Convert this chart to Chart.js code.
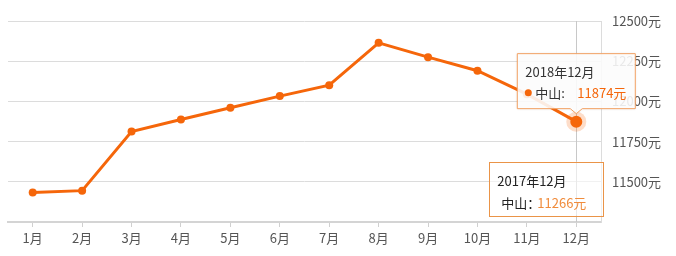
<!DOCTYPE html>
<html>
<head>
<meta charset="utf-8">
<script src="https://cdn.jsdelivr.net/npm/chart.js@4/dist/chart.umd.min.js"></script>
<style>
  html, body { margin: 0; padding: 0; background: #fff; }
  #wrap { width: 676px; height: 256px; position: relative; }
</style>
</head>
<body>
<div id="wrap"><canvas id="myChart"></canvas></div>
<script>
const months = ["1月", "2月", "3月", "4月", "5月", "6月", "7月", "8月", "9月", "10月", "11月", "12月"];
const prices = [11433, 11445, 11813, 11887, 11961, 12033, 12101, 12364, 12275, 12191, 12045, 11874];
const yTicks = [11250, 11500, 11750, 12000, 12250, 12500];

const cityName = "中山";
const activeIndex = 11;
const activeTitle = "2018年12月";
const oldTitle = "2017年12月";
const oldValue = 11266;

const orange = "#f5660a";
const fontName = "'Noto Sans CJK SC', 'Microsoft YaHei', sans-serif";

// crosshair + halo under the line
const underPlugin = {
  id: "under",
  beforeDatasetsDraw(chart) {
    const ctx = chart.ctx;
    const area = chart.chartArea;
    const x = chart.scales.x.getPixelForValue(activeIndex);
    const y = chart.scales.y.getPixelForValue(prices[activeIndex]);
    ctx.save();
    ctx.strokeStyle = "#c8c8c8";
    ctx.lineWidth = 1;
    ctx.beginPath();
    ctx.moveTo(Math.round(x) + 0.5, area.top);
    ctx.lineTo(Math.round(x) + 0.5, area.bottom);
    ctx.stroke();
    ctx.fillStyle = "rgba(245, 102, 10, 0.22)";
    ctx.beginPath();
    ctx.arc(x, y, 10, 0, Math.PI * 2);
    ctx.fill();
    ctx.restore();
  },
};

// the two tooltip boxes
const boxPlugin = {
  id: "boxes",
  afterDraw(chart) {
    const ctx = chart.ctx;
    const x = chart.scales.x.getPixelForValue(activeIndex);
    const y = chart.scales.y.getPixelForValue(prices[activeIndex]);
    ctx.save();
    ctx.font = "13px " + fontName;
    ctx.textBaseline = "middle";

    // old 2017 box
    let bx = x - 87, by = y + 40, bw = 114, bh = 54;
    ctx.fillStyle = "rgba(255,255,255,0.6)";
    ctx.fillRect(bx, by, bw, bh);
    ctx.strokeStyle = "#ea9448";
    ctx.lineWidth = 1;
    ctx.strokeRect(Math.round(bx) + 0.5, Math.round(by) + 0.5, bw, bh);
    ctx.fillStyle = "#222";
    ctx.fillText(oldTitle, bx + 8, by + 19);
    ctx.fillText(cityName + "：", bx + 12, by + 41);
    ctx.fillStyle = "#f08c3c";
    ctx.fillText(oldValue + "元", bx + 48, by + 41);

    // active 2018 box with pointer
    bx = x - 59; by = y - 68; bw = 118; bh = 55;
    const tipY = y - 8;
    ctx.shadowColor = "rgba(0,0,0,0.12)";
    ctx.shadowBlur = 3;
    ctx.beginPath();
    ctx.moveTo(bx, by);
    ctx.lineTo(bx + bw, by);
    ctx.lineTo(bx + bw, by + bh);
    ctx.lineTo(x + 6, by + bh);
    ctx.lineTo(x, tipY);
    ctx.lineTo(x - 6, by + bh);
    ctx.lineTo(bx, by + bh);
    ctx.closePath();
    ctx.fillStyle = "rgba(255,255,255,0.88)";
    ctx.fill();
    ctx.shadowBlur = 0;
    ctx.strokeStyle = "#f2a062";
    ctx.stroke();
    ctx.fillStyle = "#333";
    ctx.fillText(activeTitle, bx + 8, by + 18);
    ctx.fillStyle = orange;
    ctx.beginPath();
    ctx.arc(bx + 11, by + 39, 3.5, 0, Math.PI * 2);
    ctx.fill();
    ctx.fillStyle = "#333";
    ctx.fillText(cityName + ":", bx + 18, by + 39);
    ctx.fillStyle = orange;
    ctx.fillText(prices[activeIndex] + "元", bx + 60, by + 39);
    ctx.restore();
  },
};

const ctx = document.getElementById("myChart").getContext("2d");
new Chart(ctx, {
  type: "line",
  data: {
    labels: months,
    datasets: [
      {
        data: prices,
        borderColor: orange,
        backgroundColor: orange,
        borderWidth: 3,
        pointRadius: prices.map((_, i) => (i === activeIndex ? 6 : 4)),
        pointBorderWidth: 0,
        tension: 0,
        fill: false,
      },
    ],
  },
  options: {
    responsive: true,
    maintainAspectRatio: false,
    animation: false,
    events: [],
    layout: { padding: { top: 21, left: 8, right: 0, bottom: 0 } },
    plugins: { legend: { display: false }, tooltip: { enabled: false } },
    scales: {
      x: {
        offset: true,
        grid: {
          offset: false,
          drawOnChartArea: false,
          tickLength: 5,
          color: "#d0d0d0",
        },
        border: { display: true, color: "#d4d4d4", width: 2 },
        ticks: { color: "#555", font: { size: 13, family: fontName }, padding: 3 },
        afterFit(scale) { scale.height = 34; },
      },
      y: {
        position: "right",
        min: yTicks[0],
        max: yTicks[yTicks.length - 1],
        afterBuildTicks(scale) {
          scale.ticks = yTicks.map((v) => ({ value: v }));
        },
        grid: { color: "#dcdcdc", drawTicks: false },
        border: { display: true, color: "#dcdcdc", width: 1 },
        ticks: {
          color: "#555",
          padding: 11,
          font: { size: 13, family: fontName },
          callback: (v) => (v === yTicks[0] ? "" : v + "元"),
        },
        afterFit(scale) { scale.width = 75; },
      },
    },
  },
  plugins: [underPlugin, boxPlugin],
});
</script>
</body>
</html>
